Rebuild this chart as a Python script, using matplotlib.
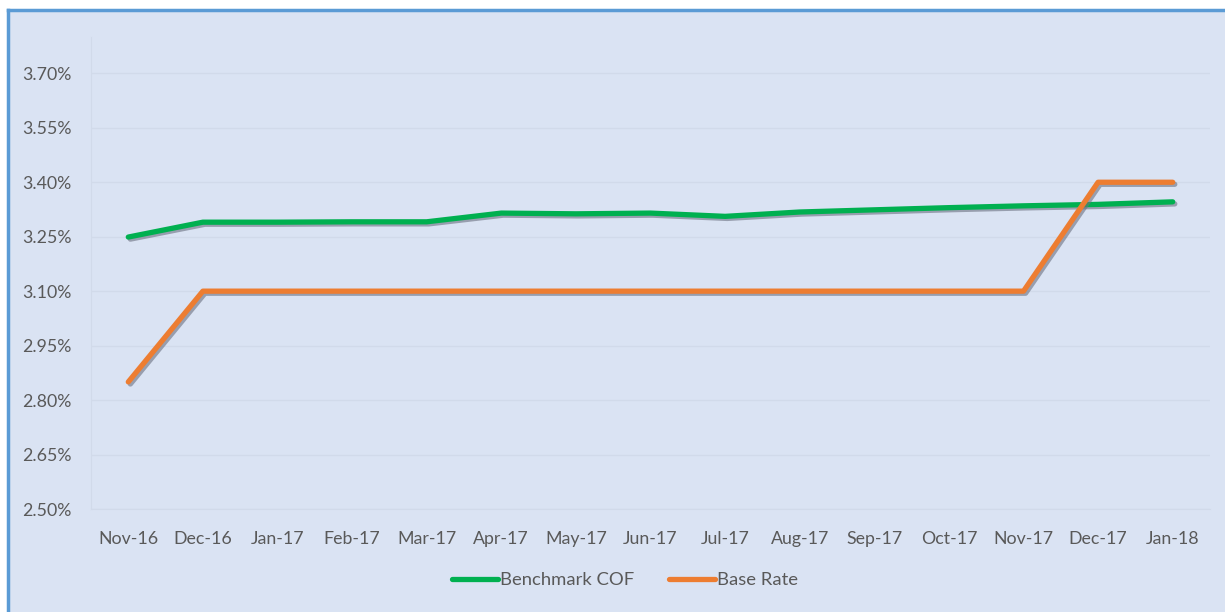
import matplotlib.pyplot as plt
import matplotlib.patheffects as pe
from matplotlib.ticker import FuncFormatter
from matplotlib.patches import Rectangle
import numpy as np

# data
months = ['Nov-16', 'Dec-16', 'Jan-17', 'Feb-17', 'Mar-17', 'Apr-17', 'May-17', 'Jun-17',
          'Jul-17', 'Aug-17', 'Sep-17', 'Oct-17', 'Nov-17', 'Dec-17', 'Jan-18']
benchmark_cof = [3.249, 3.290, 3.290, 3.291, 3.291, 3.315, 3.313, 3.315,
                 3.306, 3.318, 3.324, 3.330, 3.335, 3.339, 3.346]
base_rate = [2.85, 3.10, 3.10, 3.10, 3.10, 3.10, 3.10, 3.10,
             3.10, 3.10, 3.10, 3.10, 3.10, 3.40, 3.40]
yticks = [2.50, 2.65, 2.80, 2.95, 3.10, 3.25, 3.40, 3.55, 3.70]

bg = '#dae3f3'
txt = '#595959'
plt.rcParams['font.family'] = ['Lato', 'DejaVu Sans']

fig = plt.figure(figsize=(12.25, 6.12), dpi=100)
fig.patch.set_facecolor('white')
# chart frame: light blue area with a blue border on top and left
fig.patches.append(Rectangle((8 / 1225, 0), 1.0, 1 - 10 / 612, transform=fig.transFigure,
                             facecolor=bg, edgecolor='none', zorder=-10))
fig.lines.append(plt.Line2D([8 / 1225, 1], [1 - 10 / 612, 1 - 10 / 612], transform=fig.transFigure,
                            color='#5b9bd5', lw=2.5, zorder=-5))
fig.lines.append(plt.Line2D([8 / 1225, 8 / 1225], [0, 1 - 10 / 612], transform=fig.transFigure,
                            color='#5b9bd5', lw=2.5, zorder=-5))

ax = fig.add_axes([91 / 1225, 1 - 509 / 612, (1210 - 91) / 1225, (509 - 37) / 612])
ax.set_facecolor('none')
ax.set_zorder(1)

x = np.arange(len(months))
shadow = [pe.SimpleLineShadow(offset=(1.5, -1.5), shadow_color='#6b7080', alpha=0.6), pe.Normal()]
ax.plot(x, benchmark_cof, color='#00b050', lw=3.8, solid_capstyle='round',
        path_effects=shadow, label='Benchmark COF', zorder=3)
ax.plot(x, base_rate, color='#ed7d31', lw=3.8, solid_capstyle='round',
        path_effects=shadow, label='Base Rate', zorder=3)

ax.set_xlim(-0.5, len(months) - 0.5)
ax.set_ylim(2.50, 3.80)
ax.set_yticks(yticks)
ax.yaxis.set_major_formatter(FuncFormatter(lambda v, p: f'{v:.2f}%'))
ax.set_xticks(x)
ax.set_xticklabels(months)
ax.tick_params(axis='both', length=0, colors=txt, labelsize=12.8)
ax.tick_params(axis='y', pad=14)
ax.tick_params(axis='x', pad=16)
ax.grid(axis='y', color='#d1daea', lw=1)
for s in ['top', 'right']:
    ax.spines[s].set_visible(False)
ax.spines['left'].set_color('#d1daea')
ax.spines['bottom'].set_color('#d1daea')

leg = fig.legend(loc='center', bbox_to_anchor=(625 / 1225, 1 - 580 / 612), ncol=2, frameon=False,
                 fontsize=13.3, handlelength=2.5, handletextpad=0.1, columnspacing=1.9)
for t in leg.get_texts():
    t.set_color(txt)
for h in leg.legend_handles:
    h.set_path_effects([])

fig.savefig('out.png', dpi=100, facecolor=fig.get_facecolor())
